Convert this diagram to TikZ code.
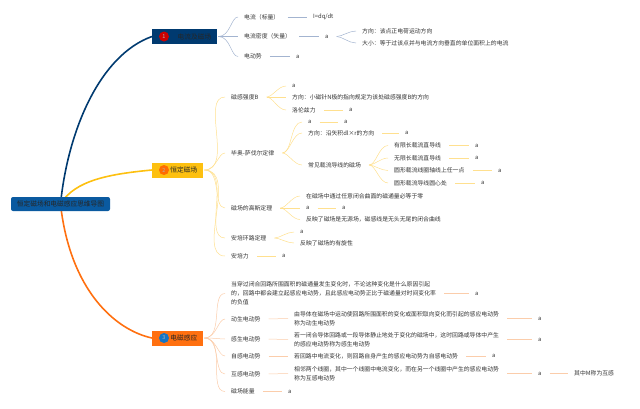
\documentclass[tikz,border=0pt]{standalone}
\usepackage{fontspec}
\setmainfont{Noto Sans CJK SC}
\usetikzlibrary{backgrounds}
\definecolor{navy}{HTML}{003A70}
\definecolor{rootblue}{HTML}{0A5AA0}
\definecolor{gold}{HTML}{FDC010}
\definecolor{deeporange}{HTML}{FF7010}
\definecolor{inktext}{HTML}{333333}
\definecolor{bluelink}{HTML}{A3B4D0}
\definecolor{goldlink}{HTML}{FFE08F}
\definecolor{orangelink}{HTML}{FBCDAB}
\tikzset{
	txt/.style={anchor=west, inner sep=0pt, text=inktext, font=\fontsize{5.85}{8.8}\selectfont, align=left},
	rootbox/.style={fill=rootblue, rounded corners=2pt, inner sep=0pt, minimum width=99pt, minimum height=14pt, text=black!85, font=\fontsize{6.7}{8}\selectfont},
	topic/.style={anchor=west, inner xsep=6pt, inner ysep=0pt, minimum height=15pt, align=right, text=black!85, font=\fontsize{6.7}{8}\selectfont},
	badge/.style={circle, inner sep=0pt, minimum size=10pt, text=white!70!black, font=\fontsize{5.5}{6}\selectfont},
	main/.style={line width=1.6pt, line cap=round},
	link/.style={line width=0.5pt, shorten <=8pt, shorten >=6pt},
	trunk/.style={line width=0.5pt, shorten <=1pt, shorten >=6pt}
}
\begin{document}
\begin{tikzpicture}[x=1pt, y=-1pt, line join=round, line cap=round]
	\useasboundingbox (0,0) rectangle (640,408);
	% centre and the three topics
	\node[rootbox] (root) at (60.5,204) {恒定磁场和电磁感应思维导图};
	\node[topic, fill=navy, text width=53pt] (elec) at (152,36.5) {电流及磁场};
	\node[topic, fill=gold, text width=39pt] (field) at (152,170) {恒定磁场};
	\node[topic, fill=deeporange, text width=39pt] (induct) at (152,338) {电磁感应};
	\node[badge, fill=red!80!black] (mark1) at (164,36.5) {1};
	\node[badge, fill=orange!85!red] (mark2) at (164,170) {2};
	\node[badge, fill=cyan!55!blue] (mark3) at (164,338) {3};

	% first branch
	\node[txt] (current) at (244,17) {电流（标量）};
	\node[txt] (currentval) at (313,17) {I=dq/dt};
	\node[txt] (density) at (244,36.5) {电流密度（矢量）};
	\node[txt] (densityval) at (325,36.5) {a};
	\node[txt] (densitydir) at (362,31) {方向：该点正电荷运动方向};
	\node[txt] (densitysize) at (362,43) {大小：等于过该点并与电流方向垂直的单位面积上的电流};
	\node[txt] (emf) at (244,56.5) {电动势};
	\node[txt] (emfval) at (296,56.5) {a};

	% second branch
	\node[txt] (bfield) at (231,97) {磁感强度B};
	\node[txt] (bval) at (292,86) {a};
	\node[txt] (bdir) at (292,97) {方向：小磁针N极的指向规定为该处磁感强度B的方向};
	\node[txt] (lorentz) at (292,110) {洛伦兹力};
	\node[txt] (lorentzval) at (349,110) {a};
	\node[txt] (biot) at (231,153) {毕奥-萨伐尔定律};
	\node[txt] (biotval) at (308,122) {a};
	\node[txt] (biotval2) at (344,122) {a};
	\node[txt] (biotdir) at (308,133) {方向：沿矢积dl×r的方向};
	\node[txt] (biotdirval) at (405,133) {a};
	\node[txt] (wires) at (308,165) {常见载流导线的磁场};
	\node[txt] (finite) at (394,145.5) {有限长载流直导线};
	\node[txt] (finiteval) at (475,145.5) {a};
	\node[txt] (infinite) at (394,158) {无限长载流直导线};
	\node[txt] (infiniteval) at (475,158) {a};
	\node[txt] (axis) at (394,170.5) {圆形载流线圈轴线上任一点};
	\node[txt] (axisval) at (498,170.5) {a};
	\node[txt] (centre) at (394,183) {圆形载流导线圆心处};
	\node[txt] (centreval) at (481,183) {a};
	\node[txt] (gauss) at (231,208) {磁场的高斯定理};
	\node[txt] (gaussa) at (306,196) {在磁场中通过任意闭合曲面的磁通量必等于零};
	\node[txt] (gaussb) at (306,208) {a};
	\node[txt] (gaussbval) at (342,208) {a};
	\node[txt] (gaussc) at (306,219.5) {反映了磁场是无源场，磁感线是无头无尾的闭合曲线};
	\node[txt] (ampere) at (231,238) {安培环路定理};
	\node[txt] (amperea) at (300,232) {a};
	\node[txt] (ampereb) at (300,243) {反映了磁场的有旋性};
	\node[txt] (force) at (231,256) {安培力};
	\node[txt] (forceval) at (282,256) {a};

	% third branch
	\node[txt] (faraday) at (231,293.5) {当穿过闭合回路所围面积的磁通量发生变化时，不论这种变化是什么原因引起\\的，回路中都会建立起感应电动势，且此感应电动势正比于磁通量对时间变化率\\的负值};
	\node[txt] (faradayval) at (475,293.5) {a};
	\node[txt] (motional) at (231,319) {动生电动势};
	\node[txt] (motionaltxt) at (294,318.5) {由导体在磁场中运动使回路所围面积的变化或面积取向变化而引起的感应电动势\\称为动生电动势};
	\node[txt] (motionalval) at (538,318.5) {a};
	\node[txt] (induced) at (231,339) {感生电动势};
	\node[txt] (inducedtxt) at (294,339.5) {若一闭合导体回路或一段导体静止地处于变化的磁场中，这时回路或导体中产生\\的感应电动势称为感生电动势};
	\node[txt] (inducedval) at (538,339.5) {a};
	\node[txt] (selfemf) at (231,356) {自感电动势};
	\node[txt] (selftxt) at (294,356) {若回路中电流变化，则回路自身产生的感应电动势为自感电动势};
	\node[txt] (selfval) at (492,356) {a};
	\node[txt] (mutual) at (231,374) {互感电动势};
	\node[txt] (mutualtxt) at (294,373.5) {相邻两个线圈，其中一个线圈中电流变化，而在另一个线圈中产生的感应电动势\\称为互感电动势};
	\node[txt] (mutualval) at (538,373.5) {a};
	\node[txt] (mutualnote) at (574,373.5) {其中M称为互感};
	\node[txt] (energy) at (231,391.5) {磁场能量};
	\node[txt] (energyval) at (288,391.5) {a};

	\begin{scope}[on background layer]
		\draw[main, navy] (root.center) .. controls (68,130) and (100,55) .. (elec.west);
		\draw[main, gold] (root.center) .. controls (75,180) and (110,174) .. (field.west);
		\draw[main, deeporange] (root.center) .. controls (70,290) and (115,330) .. (induct.west);

		\begin{scope}[bluelink]
			\draw[trunk] (elec.east) to[out=0, in=180] (current.west);
			\draw[trunk] (elec.east) to[out=0, in=180] (density.west);
			\draw[trunk] (elec.east) to[out=0, in=180] (emf.west);
			\draw[link] (current.east) -- (currentval.west);
			\draw[link] (density.east) -- (densityval.west);
			\draw[link] (emf.east) -- (emfval.west);
			\draw[link] (densityval.east) to[out=0, in=180] (densitydir.west);
			\draw[link] (densityval.east) to[out=0, in=180] (densitysize.west);
		\end{scope}

		\begin{scope}[goldlink]
			\draw[trunk] (field.east) to[out=0, in=180] (bfield.west);
			\draw[trunk] (field.east) to[out=0, in=180] (biot.west);
			\draw[trunk] (field.east) to[out=0, in=180] (gauss.west);
			\draw[trunk] (field.east) to[out=0, in=180] (ampere.west);
			\draw[trunk] (field.east) to[out=0, in=180] (force.west);
			\draw[link] (bfield.east) to[out=0, in=180] (bval.west);
			\draw[link] (bfield.east) -- (bdir.west);
			\draw[link] (bfield.east) to[out=0, in=180] (lorentz.west);
			\draw[link] (lorentz.east) -- (lorentzval.west);
			\draw[link] (biot.east) to[out=0, in=180] (biotval.west);
			\draw[link] (biot.east) to[out=0, in=180] (biotdir.west);
			\draw[link] (biot.east) to[out=0, in=180] (wires.west);
			\draw[link] (biotval.east) -- (biotval2.west);
			\draw[link] (biotdir.east) -- (biotdirval.west);
			\draw[link] (wires.east) to[out=0, in=180] (finite.west);
			\draw[link] (wires.east) to[out=0, in=180] (infinite.west);
			\draw[link] (wires.east) to[out=0, in=180] (axis.west);
			\draw[link] (wires.east) to[out=0, in=180] (centre.west);
			\draw[link] (finite.east) -- (finiteval.west);
			\draw[link] (infinite.east) -- (infiniteval.west);
			\draw[link] (axis.east) -- (axisval.west);
			\draw[link] (centre.east) -- (centreval.west);
			\draw[link] (gauss.east) to[out=0, in=180] (gaussa.west);
			\draw[link] (gauss.east) -- (gaussb.west);
			\draw[link] (gauss.east) to[out=0, in=180] (gaussc.west);
			\draw[link] (gaussb.east) -- (gaussbval.west);
			\draw[link] (ampere.east) to[out=0, in=180] (amperea.west);
			\draw[link] (ampere.east) to[out=0, in=180] (ampereb.west);
			\draw[link] (force.east) -- (forceval.west);
		\end{scope}

		\begin{scope}[orangelink]
			\draw[trunk] (induct.east) to[out=0, in=180] (faraday.west);
			\draw[trunk] (induct.east) to[out=0, in=180] (motional.west);
			\draw[trunk] (induct.east) to[out=0, in=180] (induced.west);
			\draw[trunk] (induct.east) to[out=0, in=180] (selfemf.west);
			\draw[trunk] (induct.east) to[out=0, in=180] (mutual.west);
			\draw[trunk] (induct.east) to[out=0, in=180] (energy.west);
			\draw[link] (faraday.east) -- (faradayval.west);
			\draw[link] (motional.east) -- (motionaltxt.west);
			\draw[link] (motionaltxt.east) -- (motionalval.west);
			\draw[link] (induced.east) -- (inducedtxt.west);
			\draw[link] (inducedtxt.east) -- (inducedval.west);
			\draw[link] (selfemf.east) -- (selftxt.west);
			\draw[link] (selftxt.east) -- (selfval.west);
			\draw[link] (mutual.east) -- (mutualtxt.west);
			\draw[link] (mutualtxt.east) -- (mutualval.west);
			\draw[link] (mutualval.east) -- (mutualnote.west);
			\draw[link] (energy.east) -- (energyval.west);
		\end{scope}
	\end{scope}
\end{tikzpicture}
\end{document}
